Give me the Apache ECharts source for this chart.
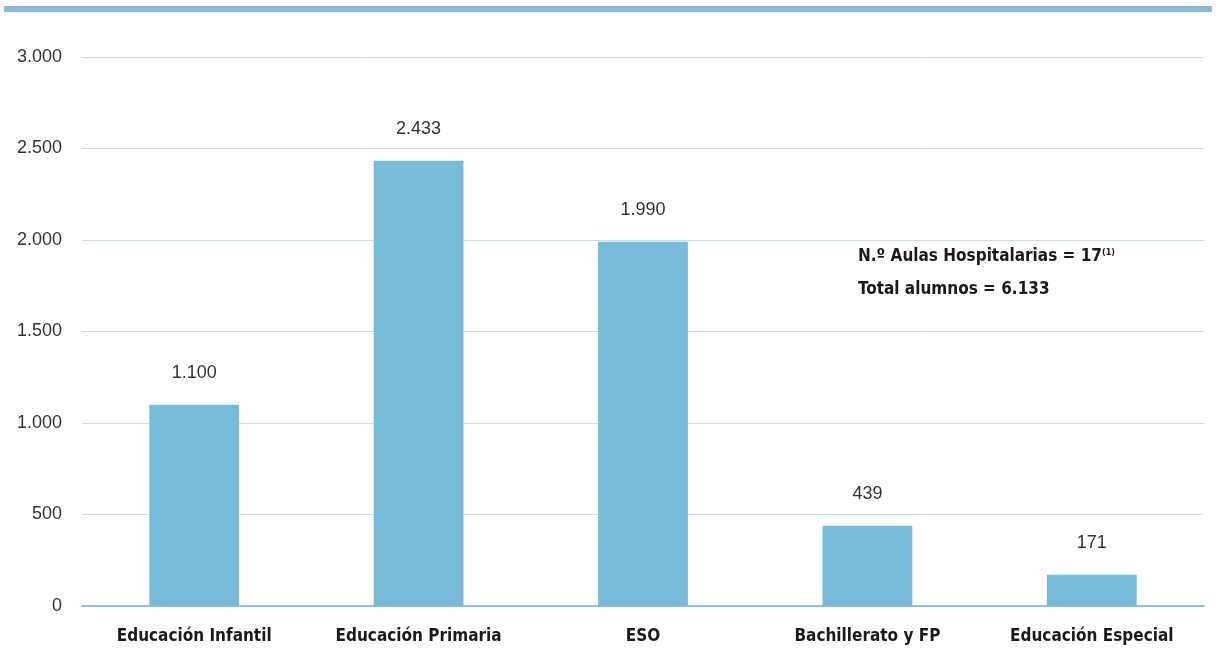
<!DOCTYPE html>
<html>
<head>
<meta charset="utf-8">
<style>
  html, body { margin: 0; padding: 0; background: #fff; }
  #chart { width: 1218px; height: 648px; }
</style>
<script src="https://cdn.jsdelivr.net/npm/echarts@6/dist/echarts.min.js"></script>
</head>
<body>
<div id="chart"></div>
<script>
var categories = ['Educación Infantil', 'Educación Primaria', 'ESO', 'Bachillerato y FP', 'Educación Especial'];
var alumnos = [1100, 2433, 1990, 439, 171];
var yTicks = [0, 500, 1000, 1500, 2000, 2500, 3000];

function miles(v) {
  return String(v).replace(/\B(?=(\d{3})+(?!\d))/g, '.');
}

var narrow = 'DejaVu Sans Condensed, Liberation Sans Narrow';
var myChart = echarts.init(document.getElementById('chart'));

var option = {
  animation: false,
  grid: { left: 82, right: 14, top: 57, bottom: 42 },
  graphic: [
    {
      type: 'rect',
      shape: { x: 4, y: 6, width: 1208, height: 6 },
      style: { fill: '#8cbad7' }
    },
    {
      type: 'text',
      left: 858, top: 248,
      style: {
        text: '{b|N.º Aulas Hospitalarias = 17}{s|(1)}',
        rich: {
          b: { fontFamily: narrow, fontWeight: 'bold', fontSize: 17, fill: '#1a1a1a' },
          s: { fontFamily: narrow, fontWeight: 'bold', fontSize: 9, fill: '#1a1a1a', verticalAlign: 'top', padding: [0, 0, 8, 0] }
        }
      }
    },
    {
      type: 'text',
      left: 858, top: 281,
      style: {
        text: 'Total alumnos = ' + miles(6133),
        fontFamily: narrow,
        fontWeight: 'bold', fontSize: 17, fill: '#1a1a1a'
      }
    }
  ],
  xAxis: {
    type: 'category',
    data: categories,
    axisTick: { show: false },
    axisLine: { lineStyle: { color: '#8ec3df', width: 2 } },
    axisLabel: {
      margin: 22,
      fontFamily: narrow,
      fontWeight: 'bold', fontSize: 17, color: '#1a1a1a'
    }
  },
  yAxis: {
    type: 'value',
    min: yTicks[0],
    max: yTicks[yTicks.length - 1],
    interval: 500,
    axisLine: { show: false },
    axisTick: { show: false },
    splitLine: { lineStyle: { color: '#c3dfee', width: 1 } },
    axisLabel: {
      margin: 20,
      fontFamily: 'Liberation Sans, Arial',
      fontSize: 18, color: '#333',
      formatter: function (v) { return miles(v); }
    }
  },
  series: [
    {
      type: 'bar',
      data: alumnos,
      barWidth: '40%',
      itemStyle: { color: '#77bbd9' },
      label: {
        show: true,
        position: 'top',
        distance: 23,
        fontFamily: 'Liberation Sans, Arial',
        fontSize: 18, color: '#333',
        formatter: function (p) { return miles(p.value); }
      }
    }
  ]
};

myChart.setOption(option);
</script>
</body>
</html>
